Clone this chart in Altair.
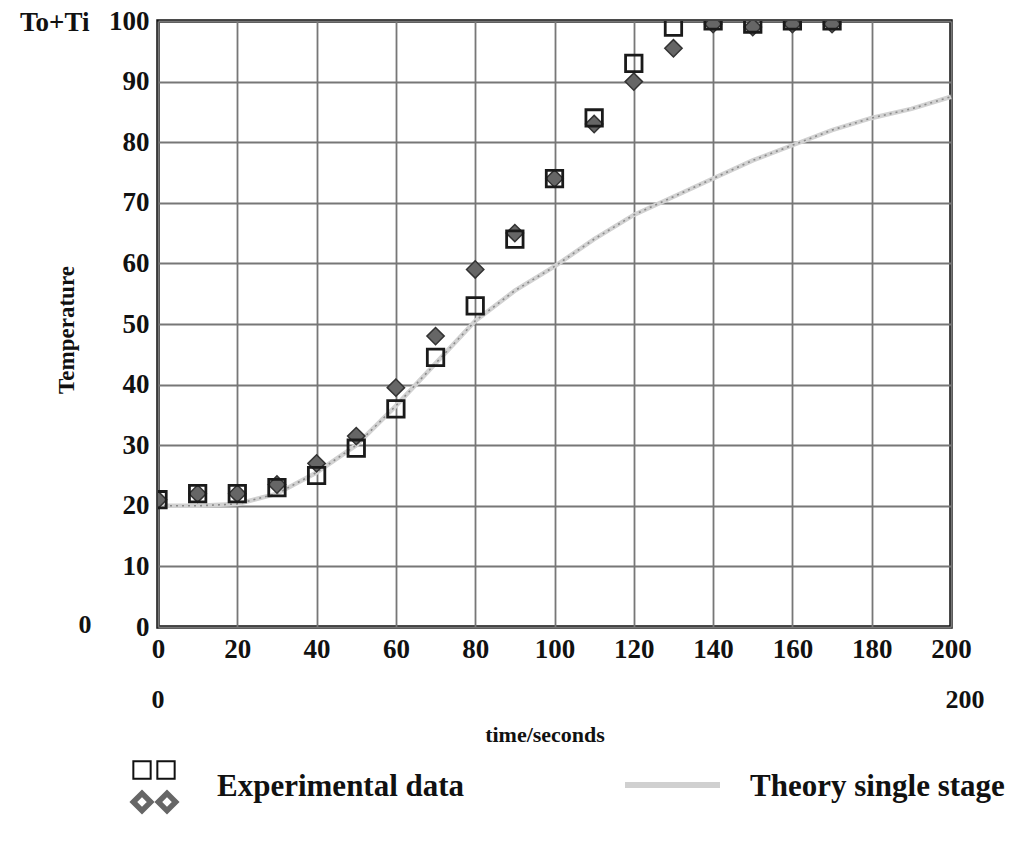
import altair as alt
import pandas as pd

# ---- data ----
time_exp = [0, 10, 20, 30, 40, 50, 60, 70, 80, 90, 100, 110, 120, 130, 140, 150, 160, 170]
exp_square = [21, 22, 22, 23, 25, 29.5, 36, 44.5, 53, 64, 74, 84, 93, 99, 100, 99.5, 100, 100]
exp_diamond = [21, 22, 22, 23.5, 27, 31.5, 39.5, 48, 59, 65, 74, 83, 90, 95.5, 99.5, 99, 99.5, 99.5]

time_theory = [0, 10, 20, 30, 40, 50, 60, 70, 80, 90, 100, 110, 120, 130, 140, 150, 160, 170, 180, 190, 200]
theory = [20, 20, 20.3, 22, 25.5, 30, 36.5, 43.5, 50.5, 55.5, 59.5, 64, 68, 71, 74, 77, 79.5, 82, 84, 85.5, 87.5]

x_ticks = [0, 20, 40, 60, 80, 100, 120, 140, 160, 180, 200]
y_ticks = [0, 10, 20, 30, 40, 50, 60, 70, 80, 90, 100]

FONT = "Liberation Serif"

exp_df = pd.DataFrame({"t": time_exp, "sq": exp_square, "di": exp_diamond})
th_df = pd.DataFrame({"t": time_theory, "T": theory})
one = pd.DataFrame({"a": [0]})

xs = alt.Scale(domain=[0, 200], nice=False)
ys = alt.Scale(domain=[0, 100], nice=False)

xaxis = alt.Axis(values=x_ticks, title=None, grid=True, gridColor="#777", gridWidth=1.8,
                 ticks=False, domain=False, labelFont=FONT, labelFontWeight="bold",
                 labelFontSize=27, labelPadding=9, labelColor="#111", labelFlush=False)
yaxis = alt.Axis(values=y_ticks, title=None, grid=True, gridColor="#777", gridWidth=1.8,
                 ticks=False, domain=False, labelFont=FONT, labelFontWeight="bold",
                 labelFontSize=27, labelPadding=9, labelColor="#111", labelFlush=False)

base = alt.Chart(th_df).encode(
    x=alt.X("t:Q", scale=xs, axis=xaxis),
    y=alt.Y("T:Q", scale=ys, axis=yaxis),
)
theory_thick = base.mark_line(color="#d2d2d2", strokeWidth=4.5)
theory_dots = base.mark_line(color="#8a8a8a", strokeWidth=1.6, strokeDash=[2, 4])

diamonds = alt.Chart(exp_df).mark_point(
    shape="diamond", filled=True, fill="#666", stroke="#333", strokeWidth=1.5,
    size=300, opacity=1, clip=True
).encode(x=alt.X("t:Q", scale=xs), y=alt.Y("di:Q", scale=ys))

squares = alt.Chart(exp_df).mark_point(
    shape="square", filled=False, stroke="#1a1a1a", strokeWidth=2.8,
    size=270, opacity=1, clip=True
).encode(x=alt.X("t:Q", scale=xs), y=alt.Y("sq:Q", scale=ys))


def txt(s, x, y, size=23, align="center", angle=0, baseline="middle"):
    kw = dict(text=s, font=FONT, fontWeight="bold", fontSize=size, align=align,
              baseline=baseline, color="#111")
    if angle:
        kw["angle"] = angle
    return alt.Chart(one).mark_text(**kw).encode(x=alt.value(x), y=alt.value(y))


texts = [
    txt("To+Ti", -138, 2, size=27, align="left"),
    txt("Temperature", -91, 309, size=23, angle=270),
    txt("0", -73, 604, size=26),
    txt("0", 0, 679, size=26),
    txt("200", 807, 679, size=26),
    txt("time/seconds", 387, 714, size=22),
    txt("Experimental data", 59, 766, size=31, align="left"),
    txt("Theory single stage", 592, 766, size=31, align="left"),
]

leg_sq = [alt.Chart(one).mark_point(shape="square", filled=False, stroke="#111", strokeWidth=2,
                                    size=300, opacity=1).encode(x=alt.value(xx), y=alt.value(749))
          for xx in (-16, 8)]
leg_di = [alt.Chart(one).mark_point(shape="diamond", filled=False, stroke="#666", strokeWidth=5.5,
                                    size=300, opacity=1).encode(x=alt.value(xx), y=alt.value(781))
          for xx in (-16, 9)]
leg_line = alt.Chart(one).mark_rule(color="#d0d0d0", strokeWidth=6).encode(
    x=alt.value(467), x2=alt.value(562), y=alt.value(764))

chart = alt.layer(theory_thick, theory_dots, diamonds, squares, *texts, *leg_sq, *leg_di, leg_line).properties(
    width=793, height=606,
    autosize=alt.AutoSizeParams(type="none"),
    padding={"left": 158, "top": 21, "right": 67, "bottom": 236},
    background="white",
).configure_view(stroke="#111", strokeWidth=3.5)

chart.save("out.html", embed_options={"renderer": "svg", "actions": False})
